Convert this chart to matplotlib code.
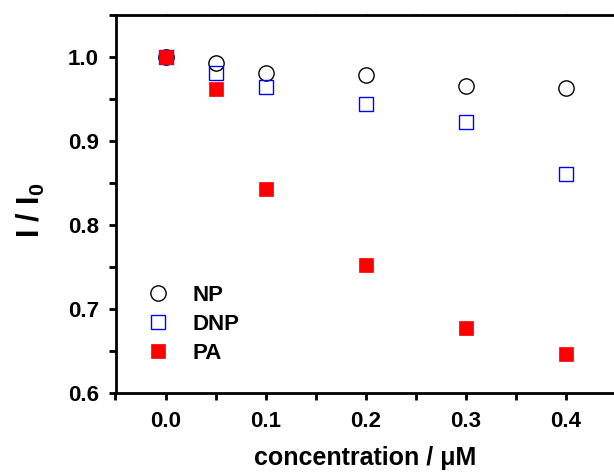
import matplotlib
matplotlib.use("Agg")
import matplotlib.pyplot as plt
from matplotlib.ticker import MultipleLocator, FormatStrFormatter

plt.rcParams['font.family'] = ['Liberation Sans', 'DejaVu Sans']
plt.rcParams['font.weight'] = 'bold'
plt.rcParams['mathtext.fontset'] = 'custom'
plt.rcParams['mathtext.bf'] = 'Liberation Sans:bold'
plt.rcParams['mathtext.rm'] = 'Liberation Sans:bold'

# concentration / uM
conc = [0.0, 0.05, 0.1, 0.2, 0.3, 0.4]
np_vals = [1.000, 0.993, 0.981, 0.979, 0.966, 0.963]
dnp_vals = [1.000, 0.981, 0.964, 0.944, 0.923, 0.861]
pa_vals = [1.000, 0.962, 0.843, 0.752, 0.677, 0.646]

fig = plt.figure(figsize=(6.14, 4.72), dpi=100)
ax = fig.add_axes([115.5 / 614, 79 / 472, 500 / 614, 378 / 472])

ax.plot(conc, np_vals, 'o', ms=11, mfc='none', mec='black', mew=1.0, label='NP')
ax.plot(conc, dnp_vals, 's', ms=10, mfc='none', mec='blue', mew=1.0, label='DNP')
ax.plot(conc, pa_vals, 's', ms=10.5, mfc='red', mec='red', mew=0.5, label='PA')

ax.set_xlim(-0.05, 0.45)
ax.set_ylim(0.6, 1.05)
ax.xaxis.set_major_locator(MultipleLocator(0.1))
ax.xaxis.set_minor_locator(MultipleLocator(0.05))
ax.yaxis.set_major_locator(MultipleLocator(0.1))
ax.yaxis.set_minor_locator(MultipleLocator(0.05))
ax.xaxis.set_major_formatter(FormatStrFormatter('%.1f'))
ax.yaxis.set_major_formatter(FormatStrFormatter('%.1f'))

for side in ['left', 'bottom', 'top']:
    ax.spines[side].set_linewidth(2)
ax.spines['right'].set_visible(False)

ax.tick_params(axis='both', which='both', direction='out', width=2, length=5,
               labelsize=16)
ax.tick_params(axis='x', which='both', top=True, labeltop=False, pad=8)
ax.tick_params(axis='y', which='both', pad=7)
# top ticks are tiny
for tl in ax.xaxis.get_majorticklines()[1::2] + ax.xaxis.get_minorticklines()[1::2]:
    tl.set_markersize(1)

ax.set_xlabel('concentration / \u03bcM', fontsize=18, fontweight='bold', labelpad=10)
ax.set_ylabel('I / I$_{\\mathbf{0}}$', fontsize=22, fontweight='bold')
ax.yaxis.set_label_coords(-0.137, 0.485)

ax.legend(loc='upper left', bbox_to_anchor=(0.018, 0.338), frameon=False,
          fontsize=16, handletextpad=0.95, labelspacing=0.36, handlelength=1.2)

fig.savefig('out.png', dpi=100)
